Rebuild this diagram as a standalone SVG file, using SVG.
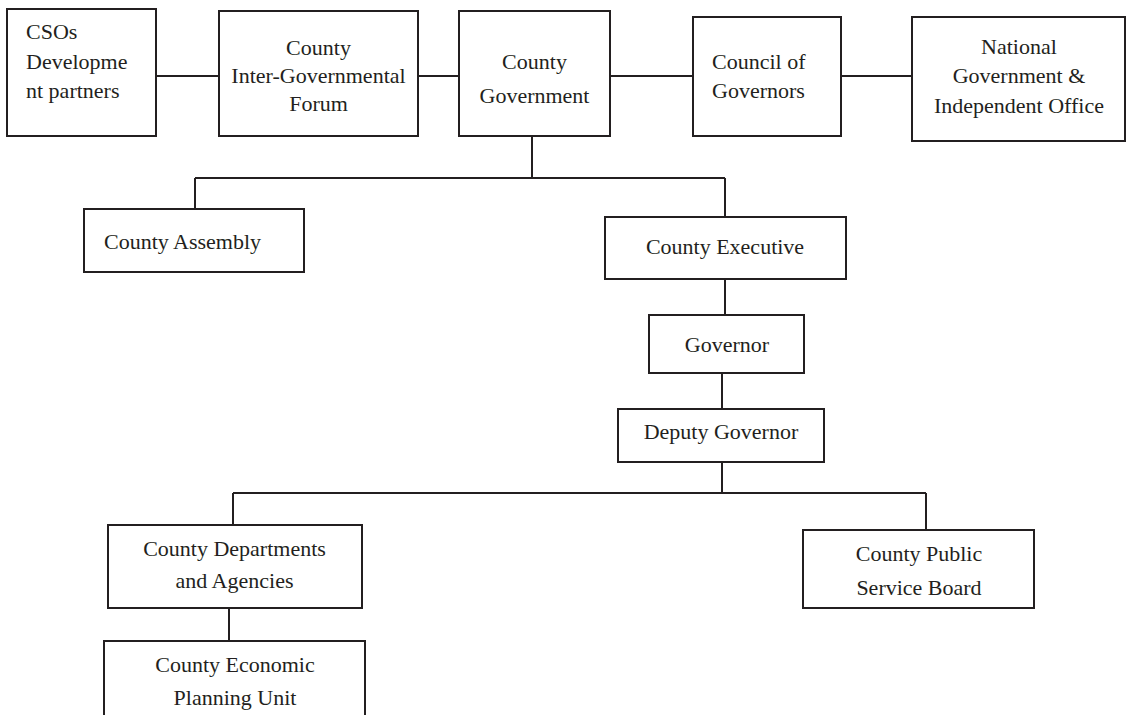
<svg xmlns="http://www.w3.org/2000/svg" width="1128" height="715" viewBox="0 0 1128 715">
<style>
.b{fill:#fff;stroke:#231f20;stroke-width:2}
.c{fill:none;stroke:#231f20;stroke-width:2}
text{font-family:'Liberation Serif','DejaVu Serif',serif;font-size:22px;fill:#231f20}
.m{text-anchor:middle}
</style>
<rect width="1128" height="715" fill="#fff"/>
<g id="connectors">
<path class="c" d="M156 76H219M418 76H459M610 76H693M841 76H912"/>
<path class="c" d="M532 136V178M195 178H725M195 178V209M725 178V217"/>
<path class="c" d="M725 279V315M722 373V409M722 462V494M233 493H926M233 493V525M926 493V530M229 608V641"/>
</g>
<g id="cso"><rect class="b" x="7" y="9" width="149" height="127"/>
<text x="26" y="39">CSOs</text><text x="26" y="69">Developme</text><text x="26" y="98">nt partners</text></g>
<g id="forum"><rect class="b" x="219" y="11" width="199" height="125"/>
<text class="m" x="318.5" y="55">County</text><text class="m" x="318.5" y="83">Inter-Governmental</text><text class="m" x="318.5" y="111">Forum</text></g>
<g id="gov"><rect class="b" x="459" y="11" width="151" height="125"/>
<text class="m" x="534.5" y="69">County</text><text class="m" x="534.5" y="103">Government</text></g>
<g id="cog"><rect class="b" x="693" y="17" width="148" height="119"/>
<text x="712" y="69">Council of</text><text x="712" y="98">Governors</text></g>
<g id="national"><rect class="b" x="912" y="17" width="213" height="124"/>
<text class="m" x="1019" y="54">National</text><text class="m" x="1019" y="83">Government &amp;</text><text class="m" x="1019" y="113">Independent Office</text></g>
<g id="assembly"><rect class="b" x="84" y="209" width="220" height="63"/>
<text x="104" y="249">County Assembly</text></g>
<g id="executive"><rect class="b" x="605" y="217" width="241" height="62"/>
<text class="m" x="725" y="254">County Executive</text></g>
<g id="governor"><rect class="b" x="649" y="315" width="155" height="58"/>
<text class="m" x="727" y="352">Governor</text></g>
<g id="deputy"><rect class="b" x="618" y="409" width="206" height="53"/>
<text class="m" x="721" y="439">Deputy Governor</text></g>
<g id="departments"><rect class="b" x="108" y="525" width="254" height="83"/>
<text class="m" x="234.5" y="556">County Departments</text><text class="m" x="234.5" y="588">and Agencies</text></g>
<g id="psb"><rect class="b" x="803" y="530" width="231" height="78"/>
<text class="m" x="919" y="561">County Public</text><text class="m" x="919" y="595">Service Board</text></g>
<g id="cepu"><rect class="b" x="104" y="641" width="261" height="90"/>
<text class="m" x="235" y="672">County Economic</text><text class="m" x="235" y="705">Planning Unit</text></g>
</svg>
